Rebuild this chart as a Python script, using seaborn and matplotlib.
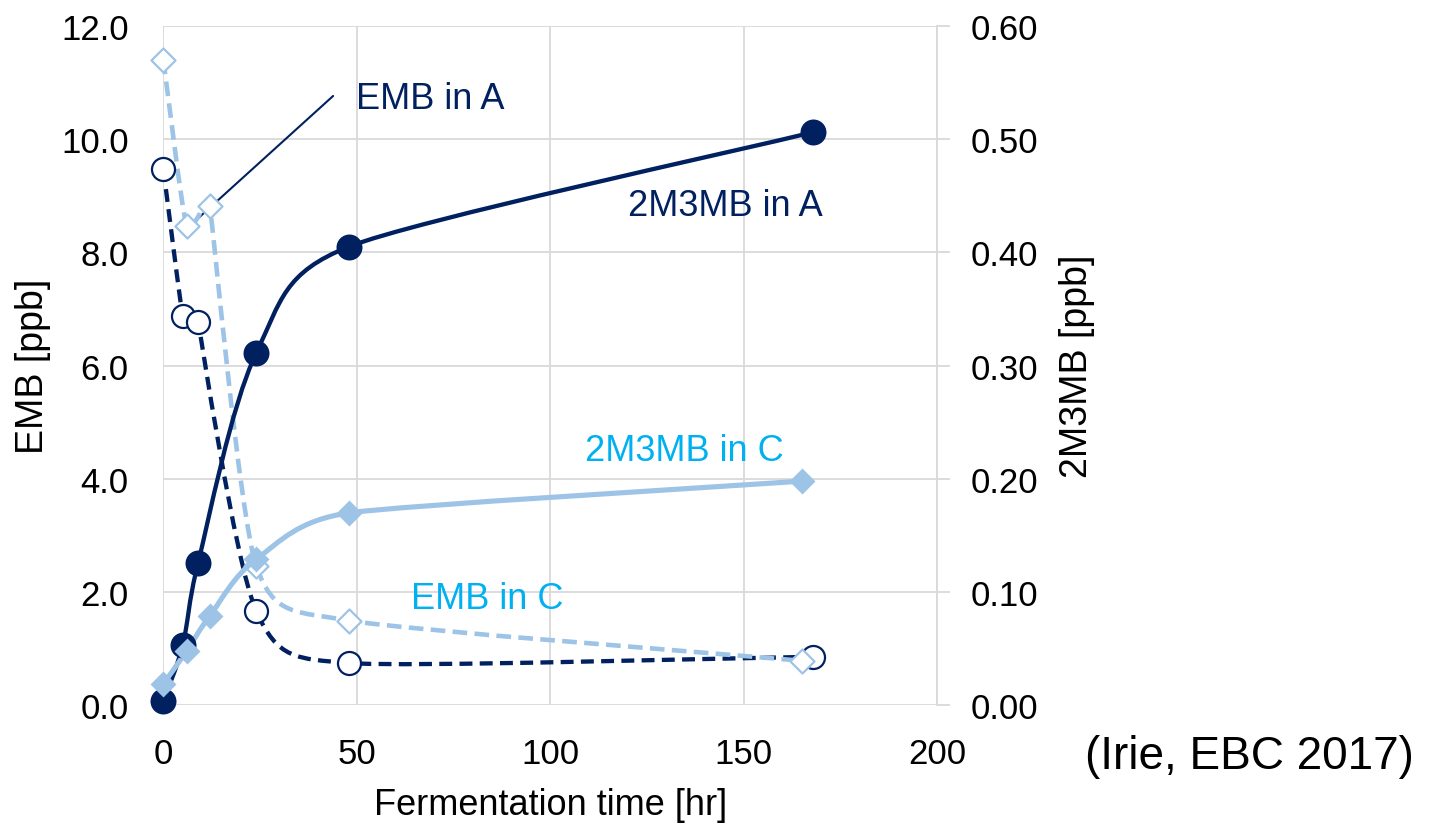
import numpy as np
import matplotlib
matplotlib.use("Agg")
import matplotlib.pyplot as plt
from matplotlib.path import Path
from matplotlib.patches import PathPatch
from matplotlib.ticker import FormatStrFormatter
import seaborn as sns

# values
time_a = [0, 5, 9, 24, 48, 168]
emb_a = [9.47, 6.88, 6.77, 1.67, 0.75, 0.86]        # EMB [ppb], left axis
m2mb_a = [0.004, 0.053, 0.126, 0.311, 0.405, 0.506]  # 2M3MB [ppb], right axis

time_c = [0, 6, 12, 24, 48, 165]
emb_c = [11.4, 8.47, 8.82, 2.47, 1.50, 0.79]
m2mb_c = [0.019, 0.048, 0.079, 0.129, 0.170, 0.198]

x_ticks = [0, 50, 100, 150, 200]
left_ticks = [0, 2, 4, 6, 8, 10, 12]
right_ticks = [0.0, 0.1, 0.2, 0.3, 0.4, 0.5, 0.6]

NAVY = "#002060"
LIGHT = "#9DC3E6"
CYAN = "#00B0F0"
GRID = "#D9D9D9"

sns.set_theme(style="whitegrid")
plt.rcParams["font.family"] = ["Liberation Sans", "DejaVu Sans"]
plt.rcParams["text.color"] = "black"
plt.rcParams["axes.labelcolor"] = "black"


def smooth_patch(ax, xs, ys, f=1 / 6, **kw):
    """Excel-like smoothed line: cubic Bezier through the points, built in display space."""
    pts = ax.transData.transform(np.column_stack([xs, ys]))
    n = len(pts)
    tang = []
    for i in range(n):
        prev_p = pts[max(i - 1, 0)]
        next_p = pts[min(i + 1, n - 1)]
        t = next_p - prev_p
        length = np.hypot(*t)
        if length == 0:
            tang.append(np.zeros(2))
            continue
        cap = length * f
        if i > 0:
            cap = min(cap, np.hypot(*(pts[i] - pts[i - 1])) / 2)
        if i < n - 1:
            cap = min(cap, np.hypot(*(pts[i + 1] - pts[i])) / 2)
        tang.append(t / length * cap)
    verts = [pts[0]]
    codes = [Path.MOVETO]
    for i in range(n - 1):
        verts += [pts[i] + tang[i], pts[i + 1] - tang[i + 1], pts[i + 1]]
        codes += [Path.CURVE4] * 3
    data_verts = ax.transData.inverted().transform(np.array(verts))
    patch = PathPatch(Path(data_verts, codes), fill=False, transform=ax.transData,
                      capstyle="butt", clip_on=False, **kw)
    ax.add_patch(patch)
    return patch


fig = plt.figure(figsize=(14.32, 8.29), dpi=100)
ax = fig.add_axes([0.11404, 0.14777, 0.54029, 0.82002])
ax2 = ax.twinx()

ax.set_xlim(0, 200)
ax.set_ylim(0, 12)
ax2.set_ylim(0, 0.6)

# grid and frame
ax.set_axisbelow(True)
ax.grid(True, color=GRID, linewidth=1.3)
ax2.grid(False)
for a in (ax, ax2):
    for side in ("top", "left", "bottom", "right"):
        a.spines[side].set_visible(False)
ax2.spines["right"].set_visible(True)
ax2.spines["right"].set_color(GRID)
ax2.spines["right"].set_linewidth(1.3)

ax.set_xticks(x_ticks)
ax.set_yticks(left_ticks)
ax2.set_yticks(right_ticks)
ax.yaxis.set_major_formatter(FormatStrFormatter("%.1f"))
ax2.yaxis.set_major_formatter(FormatStrFormatter("%.2f"))

ax.tick_params(axis="x", length=0, pad=22.5, labelsize=25, colors="black")
ax.tick_params(axis="y", length=0, pad=25, labelsize=25, colors="black")
ax2.tick_params(axis="y", direction="out", length=9.4, width=1.3, color=GRID,
                pad=15, labelsize=25, labelcolor="black")

# smoothed lines
smooth_patch(ax, time_a, emb_a, edgecolor=NAVY, linewidth=3.1,
             linestyle=(0, (3.0, 1.7)), zorder=3)
smooth_patch(ax, time_c, emb_c, edgecolor=LIGHT, linewidth=3.3,
             linestyle=(0, (3.2, 1.6)), zorder=4)
smooth_patch(ax2, time_a, m2mb_a, edgecolor=NAVY, linewidth=3.1, zorder=3)
smooth_patch(ax2, time_c, m2mb_c, edgecolor=LIGHT, linewidth=3.7, zorder=4)

# markers
sns.scatterplot(x=time_a, y=emb_a, ax=ax, marker="o", s=275, color="white",
                edgecolor=NAVY, linewidth=1.6, zorder=5, clip_on=False)
sns.scatterplot(x=time_c, y=emb_c, ax=ax, marker="D", s=150, color="white",
                edgecolor=LIGHT, linewidth=1.6, zorder=6, clip_on=False)
sns.scatterplot(x=time_a, y=m2mb_a, ax=ax2, marker="o", s=350, color=NAVY,
                linewidth=0, zorder=5, clip_on=False)
sns.scatterplot(x=time_c, y=m2mb_c, ax=ax2, marker="D", s=175, color=LIGHT,
                linewidth=0, zorder=6, clip_on=False)

# axis labels
ax.set_xlabel("Fermentation time [hr]", fontsize=26, color="black")
ax.xaxis.set_label_coords(0.5, -0.1596)
ax.xaxis.label.set_verticalalignment("baseline")

ax.set_ylabel("EMB [ppb]", fontsize=27, color="black")
ax.yaxis.set_label_coords(-0.168, 0.5)
ax.yaxis.label.set_verticalalignment("center")

ax2.set_ylabel("2M3MB [ppb]", fontsize=27, color="black")
ax2.yaxis.set_label_coords(1.181, 0.5)
ax2.yaxis.label.set_verticalalignment("center")

# series labels
ax.annotate("", xy=(5.1, 8.36), xytext=(43.9, 10.76),
            arrowprops=dict(arrowstyle="-", color=NAVY, lw=1.5,
                            shrinkA=0, shrinkB=0))
ax.text(49.8, 10.71, "EMB in A", fontsize=26, color=NAVY, ha="left", va="center")
ax.text(120.1, 8.82, "2M3MB in A", fontsize=26, color=NAVY, ha="left", va="center")
ax.text(109.0, 4.51, "2M3MB in C", fontsize=26, color=CYAN, ha="left", va="center")
ax.text(63.9, 1.88, "EMB in C", fontsize=26, color=CYAN, ha="left", va="center")

fig.text(1085 / 1432, 1 - 769 / 829, "(Irie, EBC 2017)", fontsize=33,
         ha="left", va="baseline", color="black")

fig.savefig("out.png", dpi=100)
